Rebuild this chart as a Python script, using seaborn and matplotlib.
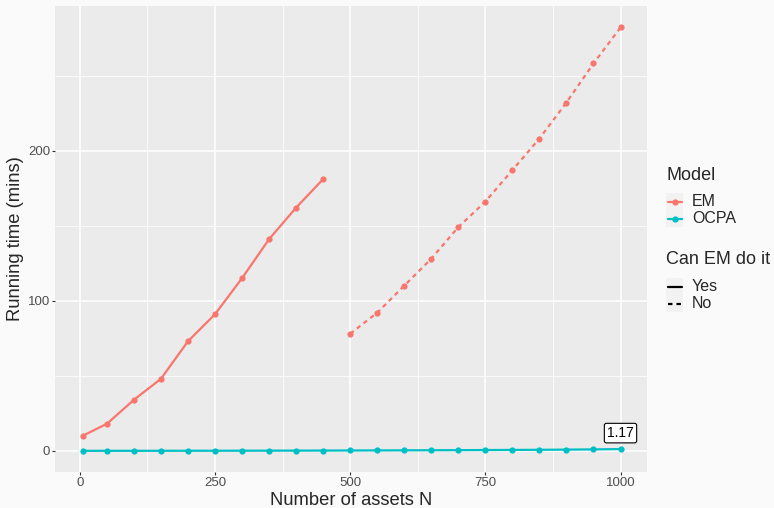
import numpy as np
import pandas as pd
import seaborn as sns
import matplotlib.pyplot as plt
from matplotlib.lines import Line2D
from matplotlib.patches import Rectangle

# Running times (minutes) by number of assets
n_em_yes = [5, 50, 100, 150, 200, 250, 300, 350, 400, 450]
em_yes = [10, 18, 34, 48, 73, 91, 115, 141, 162, 181]

n_em_no = [500, 550, 600, 650, 700, 750, 800, 850, 900, 950, 1000]
em_no = [78, 92, 110, 128, 149, 166, 187, 208, 232, 258, 282]

n_ocpa = [5, 50, 100, 150, 200, 250, 300, 350, 400, 450, 500,
          550, 600, 650, 700, 750, 800, 850, 900, 950, 1000]
ocpa = [0.00, 0.01, 0.02, 0.03, 0.05, 0.07, 0.09, 0.12, 0.15, 0.19, 0.23,
        0.28, 0.33, 0.39, 0.45, 0.52, 0.60, 0.69, 0.80, 0.95, 1.17]

models = ["EM", "OCPA"]
can_levels = ["Yes", "No"]
palette = {"EM": "#F8766D", "OCPA": "#00BFC4"}
dash_map = {"Yes": "", "No": (2, 1.8)}

df = pd.concat([
    pd.DataFrame({"N": n_em_yes, "time": em_yes, "Model": "EM", "Can": "Yes", "grp": "EM-Yes"}),
    pd.DataFrame({"N": n_em_no, "time": em_no, "Model": "EM", "Can": "No", "grp": "EM-No"}),
    pd.DataFrame({"N": n_ocpa, "time": ocpa, "Model": "OCPA", "Can": "Yes", "grp": "OCPA-Yes"}),
], ignore_index=True)

sns.set_theme(style="darkgrid", rc={
    "axes.facecolor": "#EBEBEB",
    "figure.facecolor": "#FAFAFA",
    "grid.color": "white",
})
plt.rcParams["font.family"] = ["Liberation Sans", "DejaVu Sans"]

W, H = 774, 508
fig = plt.figure(figsize=(W / 100, H / 100), dpi=100)
# panel: x 55..647 px, y 6..472 px (from top)
ax = fig.add_axes([55 / W, 1 - 472 / H, 592 / W, 466 / H])

LW = 1.6
MS = 4.5
for grp, sub in df.groupby("grp", sort=False):
    sns.lineplot(data=sub, x="N", y="time", hue="Model", style="Can",
                 palette=palette, hue_order=models, style_order=can_levels,
                 dashes=dash_map, markers={"Yes": "o", "No": "o"},
                 markersize=MS, markeredgewidth=0, linewidth=LW,
                 legend=False, ax=ax)

# label on the last OCPA point
last_n, last_v = n_ocpa[-1], ocpa[-1]
ax.annotate(f"{last_v:.2f}", xy=(last_n, last_v), xytext=(0, 11.5),
            textcoords="offset points", ha="center", va="center", fontsize=10,
            color="black",
            bbox=dict(boxstyle="round,pad=0.2,rounding_size=0.15", fc="white", ec="black", lw=0.8))

ax.set_xlim(-46, 1049)
ax.set_ylim(-14.1, 296.3)
ax.set_xticks([0, 250, 500, 750, 1000])
ax.set_yticks([0, 100, 200])
ax.set_xticks([125, 375, 625, 875], minor=True)
ax.set_yticks([50, 150, 250], minor=True)
ax.grid(which="major", color="white", linewidth=1.1)
ax.grid(which="minor", color="white", linewidth=0.55)
ax.tick_params(axis="both", which="major", labelsize=9.5, labelcolor="#4D4D4D",
               length=2.2, width=0.8, color="#333333", pad=1.3, bottom=True, left=True)
ax.tick_params(axis="both", which="minor", length=0)
for s in ax.spines.values():
    s.set_visible(False)
ax.set_xlabel("Number of assets N", fontsize=13.2, va="baseline")
ax.set_ylabel("Running time (mins)", fontsize=13.2, va="center")
ax.xaxis.set_label_coords((351 - 55) / 592, (472 - 505.3) / 466)
ax.yaxis.set_label_coords((16 - 55) / 592, 0.5)


# legends drawn in figure pixel positions
def fx(px):
    return px / W


def fy(py):
    return 1 - py / H


def key(py, color, dashes=None, marker=False):
    x0, size = 666, 17
    fig.patches.append(Rectangle((fx(x0), fy(py + size / 2)), size / W, size / H,
                                 transform=fig.transFigure, fc="#F2F2F2", ec="none"))
    ln = Line2D([fx(x0 + 1.5), fx(x0 + size - 1.5)], [fy(py), fy(py)],
                transform=fig.transFigure, color=color, lw=LW)
    if dashes:
        ln.set_dashes(dashes)
    fig.lines.append(ln)
    if marker:
        fig.lines.append(Line2D([fx(x0 + size / 2)], [fy(py)], transform=fig.transFigure,
                                color=color, marker="o", markersize=MS,
                                markeredgewidth=0, linestyle="none"))


fig.text(fx(666), fy(175), "Model", fontsize=13, va="center", ha="left")
for m, py in zip(models, [201.5, 218.5]):
    key(py, palette[m], marker=True)
    fig.text(fx(692), fy(py), m, fontsize=11.5, va="center", ha="left")

fig.text(fx(666), fy(260), "Can EM do it", fontsize=13, va="center", ha="left")
for c, py in zip(can_levels, [286.5, 303.5]):
    key(py, "black", dashes=dash_map[c] or None)
    fig.text(fx(692), fy(py), c, fontsize=11.5, va="center", ha="left")

fig.savefig("out.png", dpi=100, facecolor=fig.get_facecolor())
